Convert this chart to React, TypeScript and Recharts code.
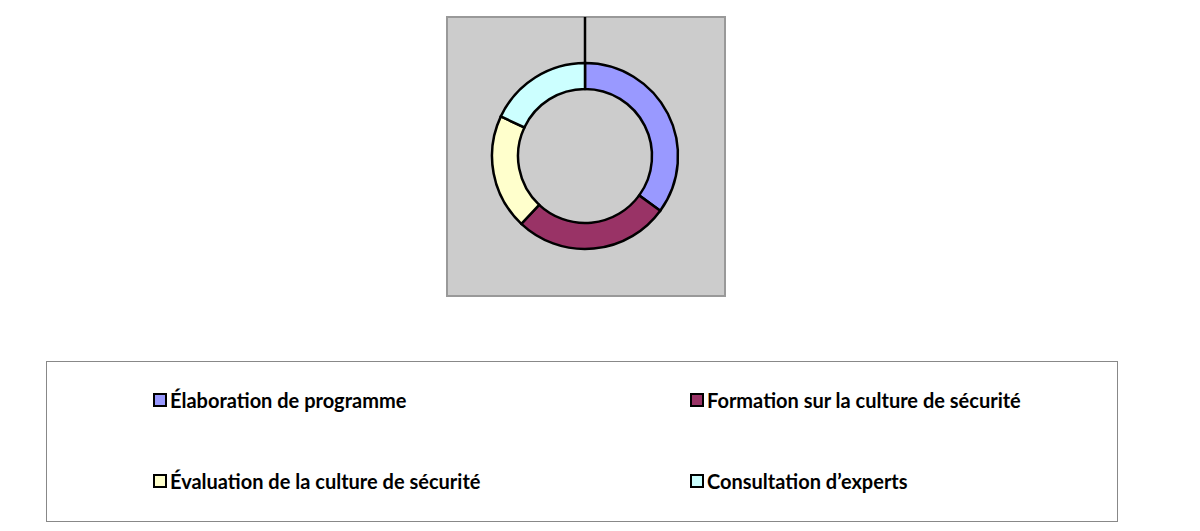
import { PieChart, Pie, Cell, Legend } from 'recharts'

const categories = [
  'Élaboration de programme',
  'Formation sur la culture de sécurité',
  'Évaluation de la culture de sécurité',
  'Consultation d\u2019experts',
]
const values = [35, 27, 20, 18]
const colors = ['#9999FF', '#993366', '#FFFFCC', '#CCFFFF']

const data = categories.map((name, i) => ({ name, value: values[i] }))

// leader line going up from the first slice to the top of the plot area
const renderLabel = (props: any) => {
  if (props.index !== 0) return null
  const { cx, cy, outerRadius } = props
  return (
    <line
      x1={cx}
      y1={cy - outerRadius}
      x2={cx}
      y2={cy - outerRadius - 46}
      style={{ stroke: '#000', strokeWidth: 2.5 }}
    />
  )
}

const renderLegend = () => (
  <div
    style={{
      width: 1070,
      height: 159,
      border: '1px solid #888',
      background: '#fff',
      position: 'relative',
      fontFamily: 'Lato, sans-serif',
      fontWeight: 700,
      fontSize: 20,
      color: '#000',
    }}
  >
    {categories.map((name, i) => (
      <div
        key={name}
        style={{
          position: 'absolute',
          left: i % 2 === 0 ? 106 : 643,
          top: i < 2 ? 26 : 107,
          display: 'flex',
          alignItems: 'center',
          whiteSpace: 'nowrap',
        }}
      >
        <span
          style={{
            display: 'inline-block',
            width: 10,
            height: 10,
            border: '2px solid #000',
            background: colors[i],
            marginRight: 3,
          }}
        />
        {name}
      </div>
    ))}
  </div>
)

export default function App() {
  return (
    <div style={{ position: 'absolute', left: 0, top: 0, width: 1200, height: 531, background: '#fff' }}>
      <div
        style={{
          position: 'absolute',
          left: 446,
          top: 16,
          width: 276,
          height: 277,
          background: '#CCCCCC',
          border: '2px solid #999',
        }}
      />
      <div style={{ position: 'absolute', left: 0, top: 0 }}>
        <PieChart width={1200} height={531} margin={{ top: 0, right: 0, bottom: 0, left: 0 }}>
          <Pie
            data={data}
            dataKey="value"
            nameKey="name"
            cx={585}
            cy={156}
            innerRadius={67}
            outerRadius={93}
            startAngle={90}
            endAngle={-270}
            stroke="#000"
            strokeWidth={2.5}
            label={renderLabel}
            labelLine={false}
            isAnimationActive={false}
          >
            {data.map((d, i) => (
              <Cell key={d.name} fill={colors[i]} stroke="#000" strokeWidth={2.5} />
            ))}
          </Pie>
          <Legend
            content={renderLegend}
            wrapperStyle={{ position: 'absolute', left: 46, top: 361, width: 1072, height: 161 }}
          />
        </PieChart>
      </div>
    </div>
  )
}
